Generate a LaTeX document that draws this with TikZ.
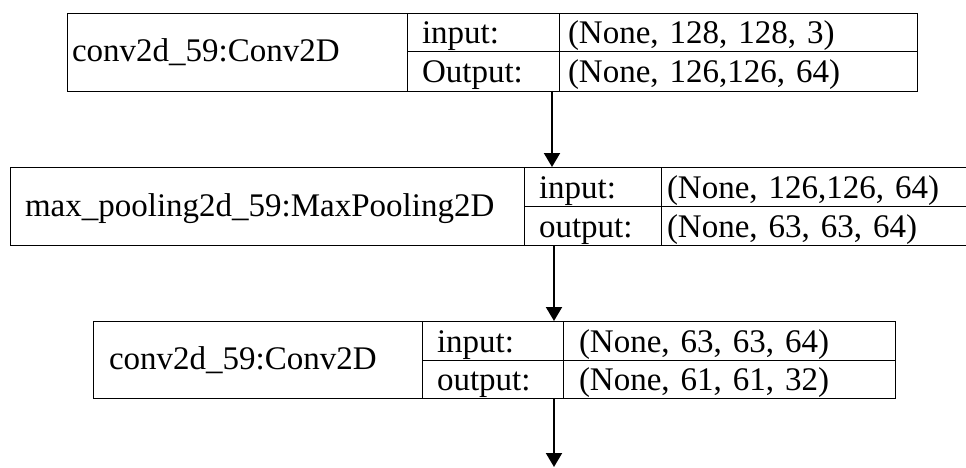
\documentclass[tikz,border=0pt]{standalone}
\usepackage{fontspec}
\setmainfont{Liberation Serif}
\usetikzlibrary{positioning, arrows.meta}
\tikzset{
	line width = 2.5pt,
	font = \fontsize{33}{40}\selectfont,
	cell/.style={
		draw,
		rectangle,
		outer sep=0pt,
		inner ysep=0pt,
		text height=23pt,
		text depth=0pt,
		align=left
	},
	namecell/.style={
		cell,
		minimum height=78pt,
		text depth=3pt
	},
	rowcell/.style={
		cell,
		minimum height=39pt
	},
	edge/.style={
		-{Triangle[length=14pt, width=16pt]},
		line width=2pt
	}
}

\begin{document}
\begin{tikzpicture}[x=1pt, y=-1pt]
\useasboundingbox (0,0) rectangle (966,468);

% ---
% first conv layer
% ---
\node[namecell, inner xsep=5pt, text width=330pt, anchor=north west] at (67,13) (conv1) {conv2d\_59:Conv2D};
\node[rowcell, minimum height=38pt, inner xsep=15pt, text width=122pt, below right=0pt and 0pt of conv1.north east] (conv1in) {input:};
\node[rowcell, minimum height=40pt, inner xsep=15pt, text width=122pt, below=0pt of conv1in] (conv1out) {Output:};
\node[rowcell, minimum height=38pt, inner xsep=9pt, text width=340pt, right=0pt of conv1in] (conv1inv) {(None, 128, 128, 3)};
\node[rowcell, minimum height=40pt, inner xsep=9pt, text width=340pt, right=0pt of conv1out] (conv1outv) {(None, 126,126, 64)};

% ---
% pooling layer
% ---
\node[namecell, inner xsep=15pt, text width=484pt, anchor=north west] at (10,167) (pool) {max\_pooling2d\_59:MaxPooling2D};
\node[rowcell, inner xsep=15pt, text width=107pt, below right=0pt and 0pt of pool.north east] (poolin) {input:};
\node[rowcell, inner xsep=15pt, text width=107pt, below=0pt of poolin] (poolout) {output:};
\node[rowcell, inner xsep=6pt, text width=293pt, right=0pt of poolin] (poolinv) {(None, 126,126, 64)};
\node[rowcell, inner xsep=6pt, text width=293pt, right=0pt of poolout] (pooloutv) {(None, 63, 63, 64)};

% ---
% second conv layer
% ---
\node[namecell, minimum height=77pt, inner xsep=16pt, text width=297pt, anchor=north west] at (93,321) (conv2) {conv2d\_59:Conv2D};
\node[rowcell, inner xsep=15pt, text width=111pt, below right=0pt and 0pt of conv2.north east] (conv2in) {input:};
\node[rowcell, minimum height=38pt, inner xsep=15pt, text width=111pt, below=0pt of conv2in] (conv2out) {output:};
\node[rowcell, inner xsep=16pt, text width=300pt, right=0pt of conv2in] (conv2inv) {(None, 63, 63, 64)};
\node[rowcell, minimum height=38pt, inner xsep=16pt, text width=300pt, right=0pt of conv2out] (conv2outv) {(None, 61, 61, 32)};

\coordinate (bottom) at (0,467);

\draw[edge] ([xshift=-7pt]conv1out.south east) -- ([xshift=-7pt]conv1out.south east |- pool.north);
\draw[edge] ([xshift=30pt]poolout.south west) -- ([xshift=30pt]poolout.south west |- conv2.north);
\draw[edge] ([xshift=-9pt]conv2out.south east) -- ([xshift=-9pt]conv2out.south east |- bottom);

\end{tikzpicture}
\end{document}
